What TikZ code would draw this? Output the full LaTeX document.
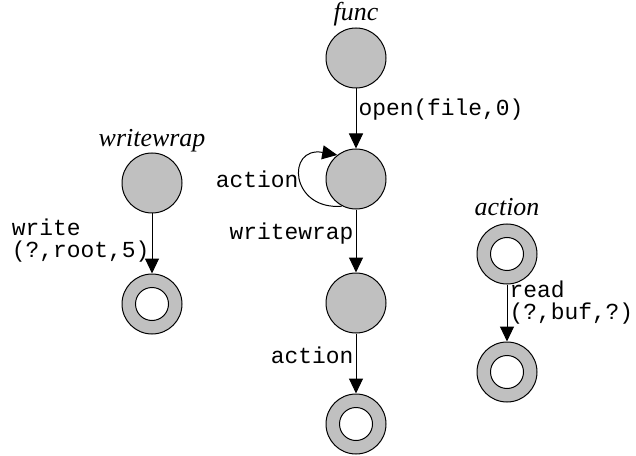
\documentclass[tikz,border=0pt]{standalone}
\usepackage{fontspec}
\setmainfont{Liberation Serif}
\setmonofont{Liberation Mono}
\usepackage{tikz}
\usetikzlibrary{arrows.meta}
\definecolor{stategray}{HTML}{C0C0C0}

\begin{document}
\begin{tikzpicture}[x=1bp, y=-1bp, node distance=121bp, line width=1bp]
        % Define styles
        \tikzstyle{state} = [circle, draw, fill=stategray, minimum size=60bp, inner sep=0pt]
        \tikzstyle{final} = [state, path picture={\draw[fill=white] (path picture bounding box.center) circle (16.5bp);}]
        \tikzstyle{title} = [font=\fontsize{26}{26}\selectfont\itshape, inner sep=0pt, anchor=base]
        \tikzstyle{lab} = [font=\fontsize{23}{22.5}\selectfont\ttfamily, align=left, inner sep=2bp]
        \tikzstyle{arrow} = [-{Triangle[length=15bp, width=14bp]}]

        \useasboundingbox (0,0) rectangle (636,456);

        % Nodes
        \node (func) [state] at (356,58) {};
        \node (open) [state, below of=func] {};
        \node (wrap) [state, below of=open, yshift=-3bp] {};
        \node (funcend) [final, below of=wrap] {};

        \node (writewrap) [state] at (152,183) {};
        \node (wrapend) [final, below of=writewrap] {};

        \node (action) [final] at (507,254) {};
        \node (actionend) [final, below of=action, yshift=3bp] {};

        % Titles
        \node (functitle) [title] at ([yshift=7bp]func.north) {func};
        \node (writewraptitle) [title] at ([yshift=6bp]writewrap.north) {writewrap};
        \node (actiontitle) [title] at ([yshift=8bp]action.north) {action};

        % Connections
        \draw [arrow] (func) -- node[lab, right, pos=0.35] {open(file,0)} (open);
        \draw [arrow] (open.243) to[out=185, in=170, looseness=2.6] node[lab, left, pos=0.5] {action} (open.128);
        \draw [arrow] (open) -- node[lab, left, pos=0.38] {writewrap} (wrap);
        \draw [arrow] (wrap) -- node[lab, left, pos=0.36] {action} (funcend);

        \draw [arrow] (writewrap) -- node[lab, left, pos=0.45] {write\\(?,root,5)} (wrapend);

        \draw [arrow] (action) -- node[lab, right, pos=0.32] {read\\(?,buf,?)} (actionend);

    \end{tikzpicture}
\end{document}
